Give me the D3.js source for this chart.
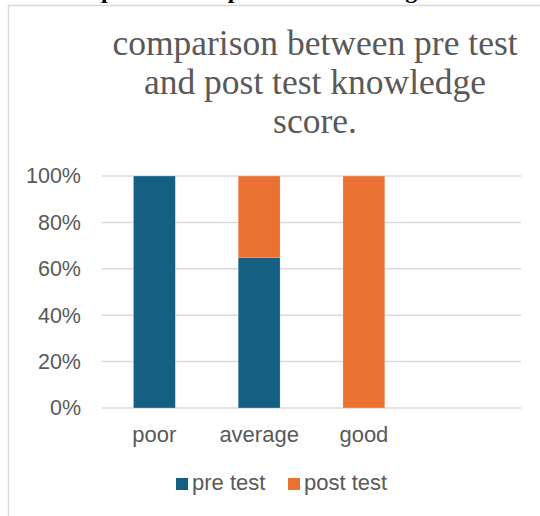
<!DOCTYPE html>
<html>
<head>
<meta charset="utf-8">
<script src="https://cdn.jsdelivr.net/npm/d3@7"></script>
<style>
  body { margin: 0; background: #fff; }
  svg { display: block; }
</style>
</head>
<body>
<div id="chart"></div>
<script>
// chart data
const categories = ['poor', 'average', 'good', ''];
const preTest = [100, 65, 0, 0];
const postTest = [0, 35, 100, 0];
const seriesNames = ['pre test', 'post test'];
const yTicks = [0, 20, 40, 60, 80, 100];
const titleLines = ['comparison between pre test', 'and post test knowledge', 'score.'];

const colors = ['#156082', '#E97132'];
const width = 540;
const height = 516;

const svg = d3.select('#chart').append('svg')
  .attr('width', width)
  .attr('height', height);

// caption of the page above, cut off by the crop
svg.append('text')
  .attr('x', -115)
  .attr('y', -2)
  .attr('font-family', '"Liberation Serif", "Times New Roman", serif')
  .attr('font-weight', 'bold')
  .attr('font-size', 24)
  .attr('fill', '#000')
  .text('comparison between pre test and post test knowledge score');

// chart area border
svg.append('rect')
  .attr('x', 8.5)
  .attr('y', 5.5)
  .attr('width', 600)
  .attr('height', 600)
  .attr('fill', '#fff')
  .attr('stroke', '#D9D9D9')
  .attr('stroke-width', 1.5);

// title
svg.append('text')
  .attr('text-anchor', 'middle')
  .attr('font-family', '"Liberation Serif", "Times New Roman", serif')
  .attr('font-size', 35.5)
  .attr('fill', '#595959')
  .selectAll('tspan')
  .data(titleLines)
  .enter().append('tspan')
  .attr('x', 315)
  .attr('y', (d, i) => 55 + i * 39)
  .text(d => d);

const x = d3.scaleBand()
  .domain(categories)
  .range([102, 521])
  .paddingInner(0.6)
  .paddingOuter(0.3);

const y = d3.scaleLinear()
  .domain([0, 100])
  .range([408, 176]);

// gridlines
svg.append('g')
  .selectAll('line')
  .data(yTicks)
  .enter().append('line')
  .attr('x1', 102)
  .attr('x2', 521)
  .attr('y1', d => y(d))
  .attr('y2', d => y(d))
  .attr('stroke', '#D9D9D9')
  .attr('stroke-width', 1.5);

// y axis labels
const yAxis = svg.append('g')
  .attr('transform', 'translate(81,0)')
  .call(d3.axisLeft(y).tickValues(yTicks).tickFormat(d => d + '%').tickSize(0).tickPadding(0));
yAxis.select('.domain').remove();
yAxis.selectAll('text')
  .attr('font-family', '"Liberation Sans", Arial, sans-serif')
  .attr('font-size', 21.5)
  .attr('fill', '#595959');

// x axis labels
const xAxis = svg.append('g')
  .attr('transform', 'translate(0,408)')
  .call(d3.axisBottom(x).tickSize(0).tickPadding(18));
xAxis.select('.domain').remove();
xAxis.selectAll('text')
  .attr('font-family', '"Liberation Sans", Arial, sans-serif')
  .attr('font-size', 22)
  .attr('fill', '#595959');

// stacked bars
const rows = categories.map((c, i) => ({ cat: c, pre: preTest[i], post: postTest[i] }));
const stack = d3.stack().keys(['pre', 'post'])(rows);

svg.append('g')
  .selectAll('g')
  .data(stack)
  .enter().append('g')
  .attr('fill', (d, i) => colors[i])
  .selectAll('rect')
  .data(d => d.filter(p => p[1] > p[0]))
  .enter().append('rect')
  .attr('x', d => x(d.data.cat))
  .attr('width', x.bandwidth())
  .attr('y', d => y(d[1]))
  .attr('height', d => y(d[0]) - y(d[1]))
  .attr('stroke', '#fff')
  .attr('stroke-width', 0.5)
  .attr('stroke-opacity', 0.5);

// legend
const legend = svg.append('g')
  .selectAll('g')
  .data(seriesNames)
  .enter().append('g')
  .attr('transform', (d, i) => `translate(${176 + i * 112},478)`);

legend.append('rect')
  .attr('width', 12)
  .attr('height', 12)
  .attr('fill', (d, i) => colors[i]);

legend.append('text')
  .attr('x', 16)
  .attr('y', 12)
  .attr('font-family', '"Liberation Sans", Arial, sans-serif')
  .attr('font-size', 22)
  .attr('fill', '#595959')
  .text(d => d);
</script>
</body>
</html>
